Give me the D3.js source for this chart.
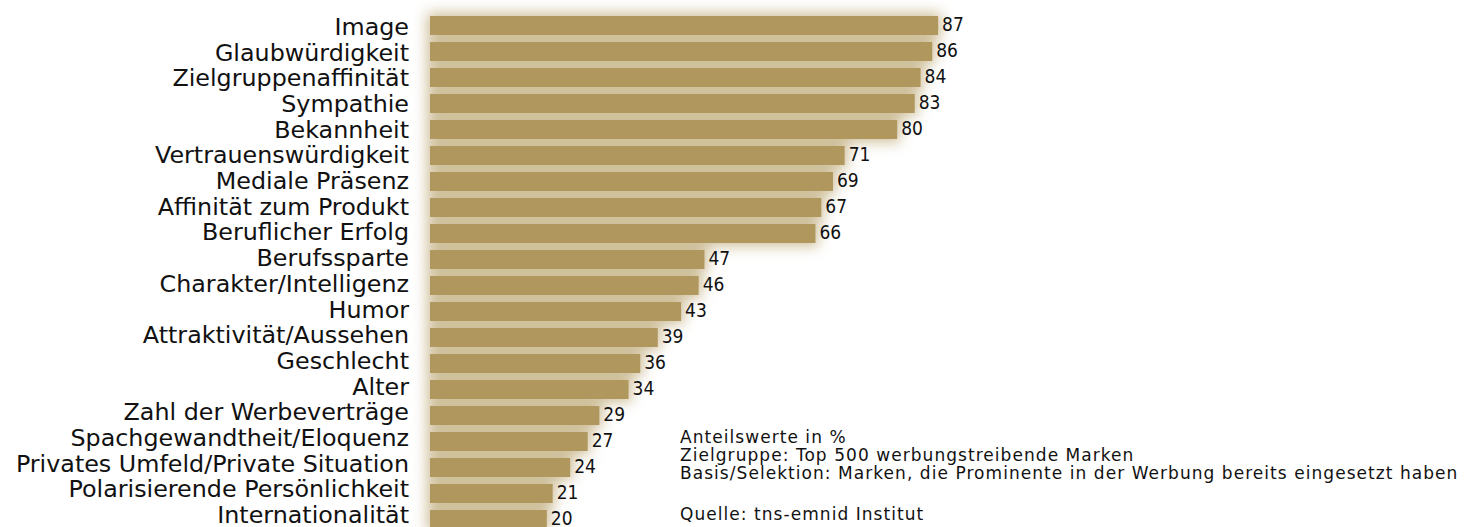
<!DOCTYPE html>
<html><head><meta charset="utf-8">
<script src="https://cdn.jsdelivr.net/npm/d3@7"></script>
<style>
html,body{margin:0;padding:0;background:#fff;}
svg{display:block;}
</style></head>
<body>
<script>
const categories = ["Image","Glaubwürdigkeit","Zielgruppenaffinität","Sympathie","Bekannheit","Vertrauenswürdigkeit","Mediale Präsenz","Affinität zum Produkt","Beruflicher Erfolg","Berufssparte","Charakter/Intelligenz","Humor","Attraktivität/Aussehen","Geschlecht","Alter","Zahl der Werbeverträge","Spachgewandtheit/Eloquenz","Privates Umfeld/Private Situation","Polarisierende Persönlichkeit","Internationalität"];
const values = [87,86,84,83,80,71,69,67,66,47,46,43,39,36,34,29,27,24,21,20];
const notes = ["Anteilswerte in %","Zielgruppe: Top 500 werbungstreibende Marken","Basis/Selektion: Marken, die Prominente in der Werbung bereits eingesetzt haben"];
const source = "Quelle: tns-emnid Institut";

const W = 1470, H = 527;
const svg = d3.select("body").append("svg").attr("width", W).attr("height", H);

const defs = svg.append("defs");
const f = defs.append("filter").attr("id","glow").attr("x","-20%").attr("y","-50%").attr("width","140%").attr("height","200%");
f.append("feGaussianBlur").attr("stdDeviation", 7);

const x0 = 430;
const x = d3.scaleLinear().domain([0, 100]).range([x0, x0 + 584]);
const y = d3.scaleBand().domain(categories).range([12.5, 532.5]).paddingInner(7/26).paddingOuter(3.5/26);
// label baselines (labels are set slightly tighter than the bars)
const yLabel = d3.scalePoint().domain(categories).range([35, 523]);

const data = categories.map((c, i) => ({c, v: values[i]}));

// glow behind bars
svg.append("g").attr("filter","url(#glow)").selectAll("rect").data(data).join("rect")
  .attr("x", x(0) - 3).attr("y", d => y(d.c) - 3)
  .attr("width", d => x(d.v) - x(0) + 6).attr("height", y.bandwidth() + 6)
  .attr("fill", "#cdbd97");

svg.append("g").selectAll("rect").data(data).join("rect")
  .attr("x", x(0)).attr("y", d => y(d.c))
  .attr("width", d => x(d.v) - x(0)).attr("height", y.bandwidth())
  .attr("fill", "#b0975e");

svg.append("g").selectAll("text").data(data).join("text")
  .attr("x", 409).attr("y", d => yLabel(d.c))
  .attr("text-anchor","end")
  .attr("font-family","DejaVu Sans").attr("font-size", 23.8).attr("fill","#111")
  .text(d => d.c);

svg.append("g").selectAll("text").data(data).join("text")
  .attr("x", d => x(d.v) + 4).attr("y", d => y(d.c) + 14.5)
  .attr("font-family","DejaVu Sans Condensed").attr("font-stretch","condensed").attr("font-size", 19).attr("fill","#111")
  .text(d => d.v);

const ng = svg.append("g").attr("font-family","DejaVu Sans").attr("font-size", 17)
  .attr("letter-spacing", "1.05px").attr("fill","#111");
ng.selectAll("text").data(notes).join("text")
  .attr("x", 680).attr("y", (d,i) => 443 + i*18).text(d => d);
ng.append("text").attr("x", 680).attr("y", 520).text(source);
</script>
</body></html>
